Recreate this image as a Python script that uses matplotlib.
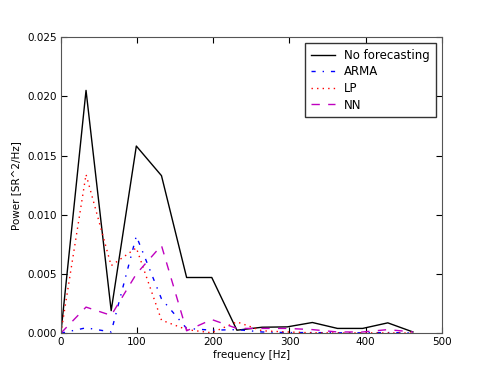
import matplotlib
matplotlib.use('Agg')
import matplotlib.pyplot as plt

freq = [0, 33, 66, 99, 132, 165, 198, 231, 264, 297, 330, 363, 396, 429, 462]
no_forecast = [0.0, 0.0205, 0.0019, 0.0158, 0.0133, 0.0047, 0.0047, 0.00025, 0.0005, 0.00053,
               0.0009, 0.0004, 0.0004, 0.00087, 0.0001]
arma = [0.0, 0.00045, 0.0001, 0.0082, 0.0029, 0.0004, 0.00025, 0.0003, 0.0001, 0.00005,
        0.00005, 0.00003, 0.00003, 0.00005, 0.00002]
lp = [0.0, 0.0134, 0.0057, 0.0072, 0.0011, 0.0003, 0.00003, 0.00095, 0.0002, 0.0001,
      0.00003, 0.00002, 0.00002, 0.00002, 0.00001]
nn = [0.0, 0.0022, 0.0015, 0.0050, 0.0074, 0.0002, 0.00115, 0.0004, 0.0004, 0.0004,
      0.0003, 0.0001, 0.0001, 0.0003, 0.0001]

# old-style (classic) dash patterns
plt.rcParams['lines.dashed_pattern'] = [6, 6]
plt.rcParams['lines.dashdot_pattern'] = [3, 5, 1, 5]
plt.rcParams['lines.dotted_pattern'] = [1, 3]
plt.rcParams['lines.scale_dashes'] = False

fig = plt.figure(figsize=(4.91, 3.71), dpi=100)
ax = fig.add_axes([0.124, 0.102, 0.776, 0.798])

ax.plot(freq, no_forecast, 'k-', lw=1.0, label='No forecasting')
ax.plot(freq, arma, 'b-.', lw=1.0, label='ARMA')
ax.plot(freq, lp, 'r:', lw=1.0, label='LP')
ax.plot(freq, nn, 'm--', lw=1.0, label='NN')

ax.set_xlim(0, 500)
ax.set_ylim(0, 0.025)
ax.set_xticks([0, 100, 200, 300, 400, 500])
ax.set_yticks([0.0, 0.005, 0.010, 0.015, 0.020, 0.025])
ax.set_yticklabels(['0.000', '0.005', '0.010', '0.015', '0.020', '0.025'])
ax.tick_params(direction='in', top=True, right=True, labelsize=7.5, length=4, pad=3)
for s in ax.spines.values():
    s.set_color('#555555')

ax.set_xlabel('frequency [Hz]', fontsize=7.5, labelpad=2)
ax.set_ylabel('Power [SR^2/Hz]', fontsize=7.5)

leg = ax.legend(loc='upper right', fontsize=8.5, fancybox=False, framealpha=1,
                handlelength=2.0, borderpad=0.5, labelspacing=0.3)
leg.get_frame().set_edgecolor('#333333')
leg.get_frame().set_linewidth(1.0)

fig.savefig('out.png', dpi=100)
